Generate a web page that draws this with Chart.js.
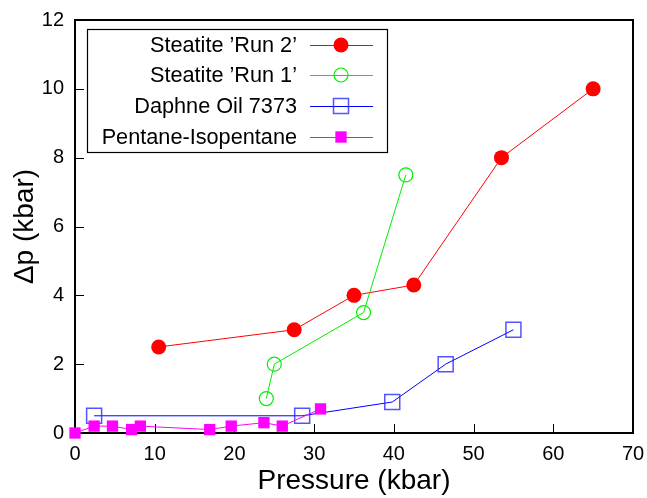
<!DOCTYPE html>
<html>
<head>
<meta charset="utf-8">
<script src="https://cdn.jsdelivr.net/npm/chart.js@4/dist/chart.umd.min.js"></script>
<style>
  html, body { margin: 0; padding: 0; background: #fff; }
  #wrap { width: 647px; height: 498px; }
</style>
</head>
<body>
<div id="wrap"><canvas id="dpChart" width="647" height="498"></canvas></div>
<script>
// pressure (kbar) and pressure difference (kbar) for each medium
const run2Pressure = [10.5, 27.5, 35, 42.5, 53.5, 65];
const run2Dp = [2.5, 3.0, 4.0, 4.3, 8.0, 10.0];

const run1Pressure = [24, 25, 36.2, 41.5];
const run1Dp = [1.0, 2.0, 3.5, 7.5];

const daphnePressure = [2.4, 28.5, 39.8, 46.5, 55];
const daphneDp = [0.5, 0.5, 0.9, 2.0, 3.0];

const pentanePressure = [0, 2.4, 4.7, 7.1, 8.2, 16.9, 19.6, 23.7, 26.0, 30.8];
const pentaneDp = [0, 0.2, 0.2, 0.1, 0.2, 0.1, 0.2, 0.3, 0.2, 0.7];

const seriesNames = ["Steatite \u2019Run 2\u2019", "Steatite \u2019Run 1\u2019", "Daphne Oil 7373", "Pentane-Isopentane"];

const xTicks = [0, 10, 20, 30, 40, 50, 60, 70];
const yTicks = [0, 2, 4, 6, 8, 10, 12];

const FONT = "'Liberation Sans', Arial, Helvetica, sans-serif";

function toPoints(xs, ys) {
  return xs.map(function (x, i) { return { x: x, y: ys[i] }; });
}

// draws one marker the same way the datasets do
function drawMarker(ctx, ds, x, y) {
  ctx.save();
  ctx.lineWidth = ds.pointBorderWidth;
  ctx.strokeStyle = ds.pointBorderColor;
  ctx.fillStyle = ds.pointBackgroundColor;
  ctx.beginPath();
  if (ds.pointStyle === "circle") {
    ctx.arc(x, y, ds.pointRadius, 0, Math.PI * 2);
  } else {
    const s = Math.SQRT1_2 * ds.pointRadius;
    ctx.rect(x - s, y - s, 2 * s, 2 * s);
  }
  ctx.fill();
  if (ds.pointBorderWidth > 0) ctx.stroke();
  ctx.restore();
}

// black frame round the plot and inward tick marks
const framePlugin = {
  id: "frame",
  beforeDatasetsDraw(chart) {
    const { ctx, chartArea: a, scales } = chart;
    ctx.save();
    ctx.strokeStyle = "#000";
    ctx.lineWidth = 1;
    ctx.beginPath();
    xTicks.forEach(function (v) {
      const px = Math.round(scales.x.getPixelForValue(v)) + 0.5;
      ctx.moveTo(px, a.bottom);
      ctx.lineTo(px, a.bottom - 9);
    });
    yTicks.forEach(function (v) {
      const py = Math.round(scales.y.getPixelForValue(v)) + 0.5;
      ctx.moveTo(a.left, py);
      ctx.lineTo(a.left + 9, py);
    });
    ctx.stroke();
    ctx.lineWidth = 2;
    ctx.strokeRect(a.left, a.top, a.right - a.left, a.bottom - a.top);
    ctx.restore();
  }
};

// key box in the upper left, text on the left and sample on the right
const keyPlugin = {
  id: "key",
  afterDraw(chart) {
    const ctx = chart.ctx;
    const box = { left: 87, top: 29, right: 387, bottom: 152 };
    const rowY = [45, 75, 106, 137];
    ctx.save();
    ctx.strokeStyle = "#000";
    ctx.lineWidth = 1.2;
    ctx.strokeRect(box.left + 0.5, box.top + 0.5, box.right - box.left, box.bottom - box.top);
    ctx.font = "21.7px " + FONT;
    ctx.fillStyle = "#000";
    ctx.textAlign = "right";
    ctx.textBaseline = "middle";
    chart.data.datasets.forEach(function (ds, i) {
      const y = rowY[i];
      ctx.fillText(ds.label, 297, y + 1);
      ctx.strokeStyle = ds.borderColor;
      ctx.lineWidth = ds.borderWidth;
      ctx.beginPath();
      ctx.moveTo(310, y + 0.5);
      ctx.lineTo(373, y + 0.5);
      ctx.stroke();
      drawMarker(ctx, ds, 341, y);
    });
    ctx.restore();
  }
};

const ctx = document.getElementById("dpChart").getContext("2d");

const chart = new Chart(ctx, {
  type: "scatter",
  data: {
    datasets: [
      {
        label: seriesNames[0],
        data: toPoints(run2Pressure, run2Dp),
        showLine: true,
        borderColor: "#ff0000",
        borderWidth: 1,
        pointStyle: "circle",
        pointRadius: 7.5,
        pointBackgroundColor: "#ff0000",
        pointBorderColor: "#ff0000",
        pointBorderWidth: 0,
        order: 4,
        clip: false
      },
      {
        label: seriesNames[1],
        data: toPoints(run1Pressure, run1Dp),
        showLine: true,
        borderColor: "#00ee00",
        borderWidth: 1,
        pointStyle: "circle",
        pointRadius: 7,
        pointBackgroundColor: "rgba(0,0,0,0)",
        pointBorderColor: "#00ee00",
        pointBorderWidth: 1.2,
        order: 3,
        clip: false
      },
      {
        label: seriesNames[2],
        data: toPoints(daphnePressure, daphneDp),
        showLine: true,
        borderColor: "#0000ff",
        borderWidth: 1,
        pointStyle: "rect",
        pointRadius: 10.6,
        pointBackgroundColor: "rgba(0,0,0,0)",
        pointBorderColor: "rgba(40,40,255,0.8)",
        pointBorderWidth: 1.5,
        order: 2,
        clip: false
      },
      {
        label: seriesNames[3],
        data: toPoints(pentanePressure, pentaneDp),
        showLine: true,
        borderColor: "#ff00ff",
        borderWidth: 1,
        pointStyle: "rect",
        pointRadius: 8,
        pointBackgroundColor: "#ff00ff",
        pointBorderColor: "#ff00ff",
        pointBorderWidth: 0,
        order: 1,
        clip: false
      }
    ]
  },
  options: {
    responsive: false,
    animation: false,
    layout: { padding: { left: 0, right: 14, top: 20, bottom: 0 } },
    plugins: {
      legend: { display: false },
      tooltip: { enabled: false }
    },
    elements: { line: { tension: 0 } },
    scales: {
      x: {
        type: "linear",
        min: 0,
        max: 70,
        afterFit(scale) {
          scale.height = 65;
          scale.paddingLeft = 0;
          scale.paddingRight = 0;
        },
        afterBuildTicks(scale) { scale.ticks = xTicks.map(function (v) { return { value: v }; }); },
        grid: { display: false, drawTicks: false },
        border: { display: false },
        ticks: { color: "#000", padding: 9, font: { family: FONT, size: 20 } },
        title: {
          display: true,
          text: "Pressure (kbar)",
          color: "#000",
          padding: { top: 0, bottom: 1 },
          font: { family: FONT, size: 28, lineHeight: 1.1 }
        }
      },
      y: {
        type: "linear",
        min: 0,
        max: 12,
        afterFit(scale) {
          scale.width = 75;
          scale.paddingTop = 0;
          scale.paddingBottom = 0;
        },
        afterBuildTicks(scale) { scale.ticks = yTicks.map(function (v) { return { value: v }; }); },
        grid: { display: false, drawTicks: false },
        border: { display: false },
        ticks: { color: "#000", padding: 11, font: { family: FONT, size: 20 } },
        title: {
          display: true,
          text: "\u0394p (kbar)",
          color: "#000",
          padding: { top: 10, bottom: 0 },
          font: { family: FONT, size: 28, lineHeight: 1.1 }
        }
      }
    }
  },
  plugins: [framePlugin, keyPlugin]
});
</script>
</body>
</html>
